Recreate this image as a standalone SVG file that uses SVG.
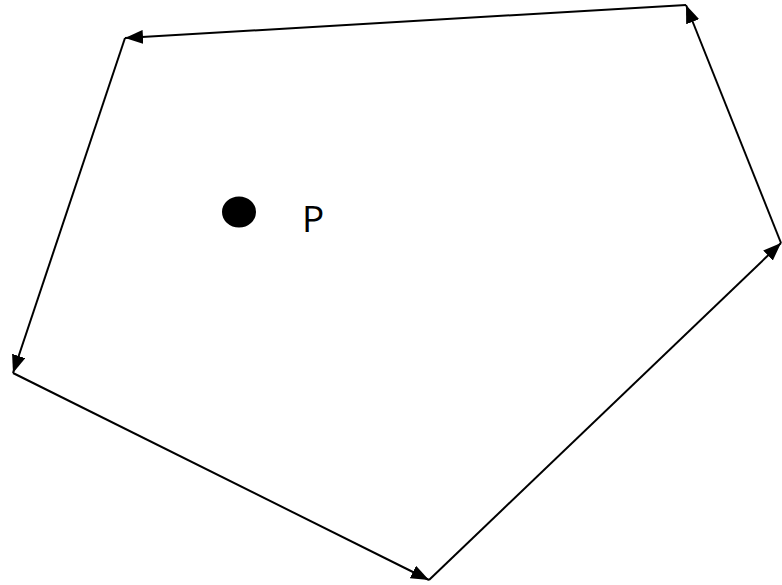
<svg xmlns="http://www.w3.org/2000/svg" width="782" height="585" viewBox="0 0 782 585">
<style>
.e{stroke:#000;stroke-width:2;fill:none;marker-end:url(#ah)}
.t{font-family:"Open Sans","Noto Sans",sans-serif;font-size:37px;fill:#000}
</style>
<defs>
<marker id="ah" viewBox="0 0 18 14" refX="18" refY="7" markerWidth="18" markerHeight="14" markerUnits="userSpaceOnUse" orient="auto">
<path d="M0,0 L18,7 L0,14 Z" fill="#000"/>
</marker>
</defs>
<rect width="782" height="585" fill="#fff"/>
<g id="connectors">
<line class="e" x1="686" y1="5" x2="125" y2="38"/>
<line class="e" x1="781" y1="243" x2="686" y2="5"/>
<line class="e" x1="429" y1="580" x2="781" y2="243"/>
<line class="e" x1="13" y1="373" x2="429" y2="580"/>
<line class="e" x1="125" y1="38" x2="13" y2="373"/>
</g>
<g id="P">
<ellipse cx="239" cy="212" rx="17" ry="15.5" fill="#000"/>
<text class="t" x="302" y="232">P</text>
</g>
</svg>
